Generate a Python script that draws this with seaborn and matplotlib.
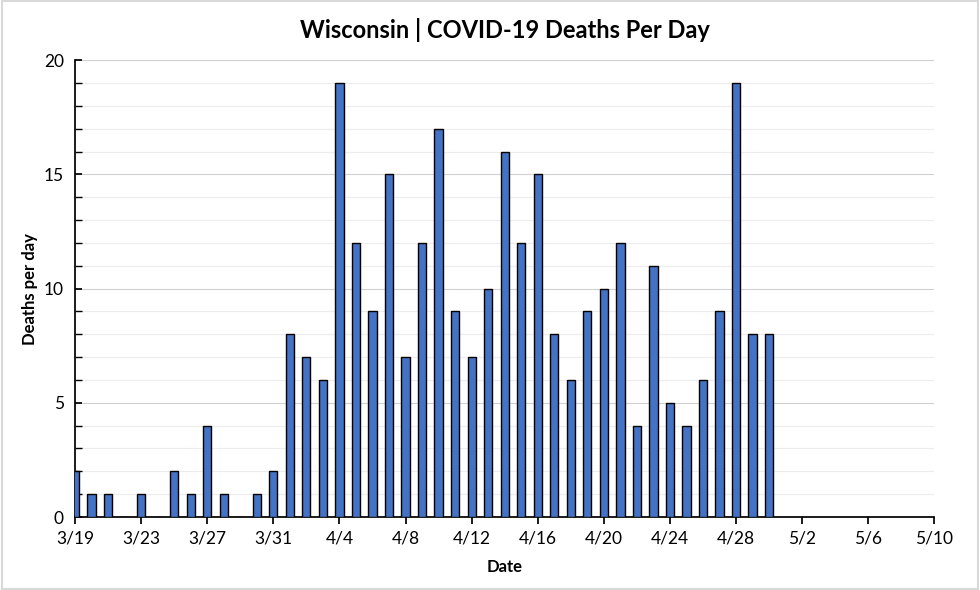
import matplotlib
matplotlib.use("Agg")
import matplotlib.pyplot as plt
import seaborn as sns
import pandas as pd
from matplotlib.ticker import MultipleLocator

# Datos: muertes diarias desde 3/19
day_offset = list(range(0, 43))
deaths = [2, 1, 1, 0, 1, 0, 2, 1, 4, 1, 0, 1, 2,
          8, 7, 6, 19, 12, 9, 15, 7, 12, 17, 9, 7, 10, 16, 12, 15,
          8, 6, 9, 10, 12, 4, 11, 5, 4, 6, 9, 19, 8, 8]
tick_days = list(range(0, 53, 4))
tick_labels = ["3/19", "3/23", "3/27", "3/31", "4/4", "4/8", "4/12",
               "4/16", "4/20", "4/24", "4/28", "5/2", "5/6", "5/10"]

sns.set_theme(style="white")
plt.rcParams['font.family'] = ['Lato', 'DejaVu Sans']
plt.rcParams['text.color'] = 'black'
plt.rcParams['axes.labelcolor'] = 'black'
plt.rcParams['xtick.color'] = 'black'
plt.rcParams['ytick.color'] = 'black'

df = pd.DataFrame({"dia": day_offset, "muertes": deaths})

fig = plt.figure(figsize=(9.8, 5.9), dpi=100)
ax = fig.add_axes([0.0765, 0.1237, 0.877, 0.7743])

sns.barplot(data=df, x="dia", y="muertes", native_scale=True, width=0.5,
            color="#4472C4", saturation=1, edgecolor="black", linewidth=1,
            ax=ax, zorder=3)

ax.set_xlim(0, 52)
ax.set_ylim(0, 20)
ax.set_xticks(tick_days)
ax.set_xticklabels(tick_labels, fontsize=12.5)
ax.yaxis.set_major_locator(MultipleLocator(5))
ax.yaxis.set_minor_locator(MultipleLocator(1))
ax.tick_params(axis="y", which="both", direction="in", length=5, left=True,
               labelsize=12.5, pad=8)
ax.tick_params(axis="x", direction="out", length=5, bottom=True, pad=5)
ax.grid(axis="y", which="major", color="#d0d0d0", linewidth=0.8, zorder=0)
ax.grid(axis="y", which="minor", color="#ececec", linewidth=0.8, zorder=0)

for s in ["top", "right"]:
    ax.spines[s].set_visible(False)
ax.spines["left"].set_color("black")
ax.spines["bottom"].set_color("black")

ax.set_xlabel("Date", fontsize=12, fontweight="bold", labelpad=9)
ax.set_ylabel("Deaths per day", fontsize=12, fontweight="bold", labelpad=4)
ax.set_title("Wisconsin | COVID-19 Deaths Per Day", fontsize=17,
             fontweight="bold", pad=16)

# marco gris de la imagen
fig.patches.append(plt.Rectangle((0.002, 0.002), 0.996, 0.996, fill=False,
                                 edgecolor="#d9d9d9", linewidth=1.5,
                                 transform=fig.transFigure))

plt.savefig("out.png", dpi=100)
plt.close()
